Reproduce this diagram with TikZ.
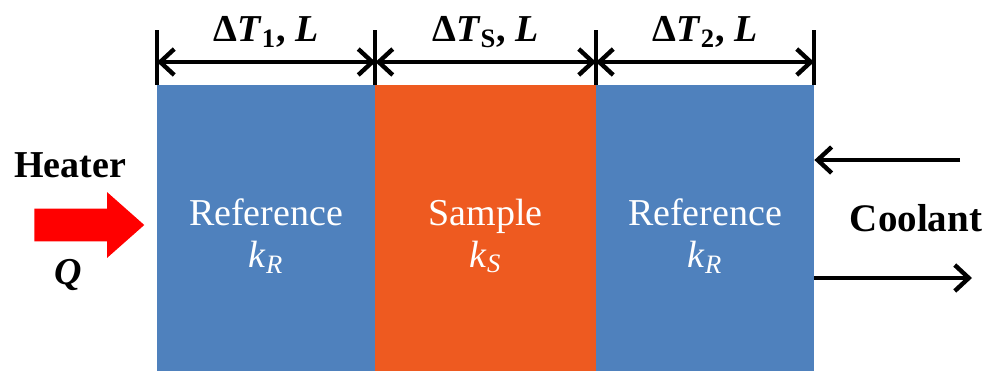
\documentclass[tikz,border=0pt]{standalone}
\usepackage{fontspec}
\setmainfont{Liberation Serif}
\usetikzlibrary{arrows.meta,shapes.arrows}
\definecolor{refblue}{RGB}{79,129,189}
\definecolor{sampleorange}{RGB}{238,90,32}

\begin{document}
\begin{tikzpicture}[
        x=0.5pt, y=-0.5pt,
        block/.style={
            rectangle,
            inner sep=0pt,
            minimum height=143pt
        },
        blocktext/.style={
            text=white,
            align=center,
            inner sep=0pt,
            font=\fontsize{19}{21}\selectfont
        },
        lbl/.style={font=\fontsize{19}{22}\selectfont\bfseries, inner sep=0pt},
        tick/.style={line width=2pt},
        dim/.style={line width=2pt, {Straight Barb[length=7pt,width=13pt,line width=2.2pt]}-{Straight Barb[length=7pt,width=13pt,line width=2.2pt]}},
        flow/.style={line width=2pt, -{Straight Barb[length=7pt,width=13pt,line width=2.2pt]}}
    ]

    \useasboundingbox (0,0) rectangle (987,371);

    \node[block, fill=refblue, minimum width=109pt]        (ref1) at (266,228)   {};
    \node[block, fill=sampleorange, minimum width=110.5pt] (samp) at (485.5,228) {};
    \node[block, fill=refblue, minimum width=109pt]        (ref2) at (705,228)   {};

    \node[blocktext] (ref1txt) at (266,236)   {Reference\\\textit{k}\textsubscript{\itshape R}};
    \node[blocktext] (samptxt) at (485.5,236) {Sample\\\textit{k}\textsubscript{\itshape S}};
    \node[blocktext] (ref2txt) at (705,236)   {Reference\\\textit{k}\textsubscript{\itshape R}};

    \coordinate (d0) at (157,62);
    \coordinate (d1) at (375.5,62);
    \coordinate (d2) at (596,62);
    \coordinate (d3) at (814,62);

    \draw[tick] (ref1.north west) -- ++(0,-55);
    \draw[tick] (ref1.north east) -- ++(0,-55);
    \draw[tick] (ref2.north west) -- ++(0,-55);
    \draw[tick] (ref2.north east) -- ++(0,-55);

    \draw[dim] (d0) -- (d1);
    \draw[dim] (d1) -- (d2);
    \draw[dim] (d2) -- (d3);

    \node[lbl] (dt1) at (266,32)   {Δ\textit{T}\textsubscript{1}, \textit{L}};
    \node[lbl] (dts) at (485.5,32) {Δ\textit{T}\textsubscript{S}, \textit{L}};
    \node[lbl] (dt2) at (705,32)   {Δ\textit{T}\textsubscript{2}, \textit{L}};

    \node[lbl] (heater) at (70,165) {Heater};
    \node[single arrow, fill=red, draw=none, inner xsep=0pt, inner ysep=8pt,
          minimum width=32.5pt, minimum height=55pt,
          single arrow head extend=8.25pt, single arrow tip angle=83] (heat) at (80,225) {};
    \node[lbl, font=\fontsize{19}{22}\selectfont\bfseries\itshape] (q) at (68,275) {Q};

    \coordinate (cin)  at (960,160);
    \coordinate (cout) at (972,278);
    \node[lbl, font=\fontsize{19.5}{22}\selectfont\bfseries] (coolant) at (916,218) {Coolant};
    \draw[flow] (cin) -- (ref2.east |- cin);
    \draw[flow] (ref2.east |- cout) -- (cout);

\end{tikzpicture}
\end{document}
